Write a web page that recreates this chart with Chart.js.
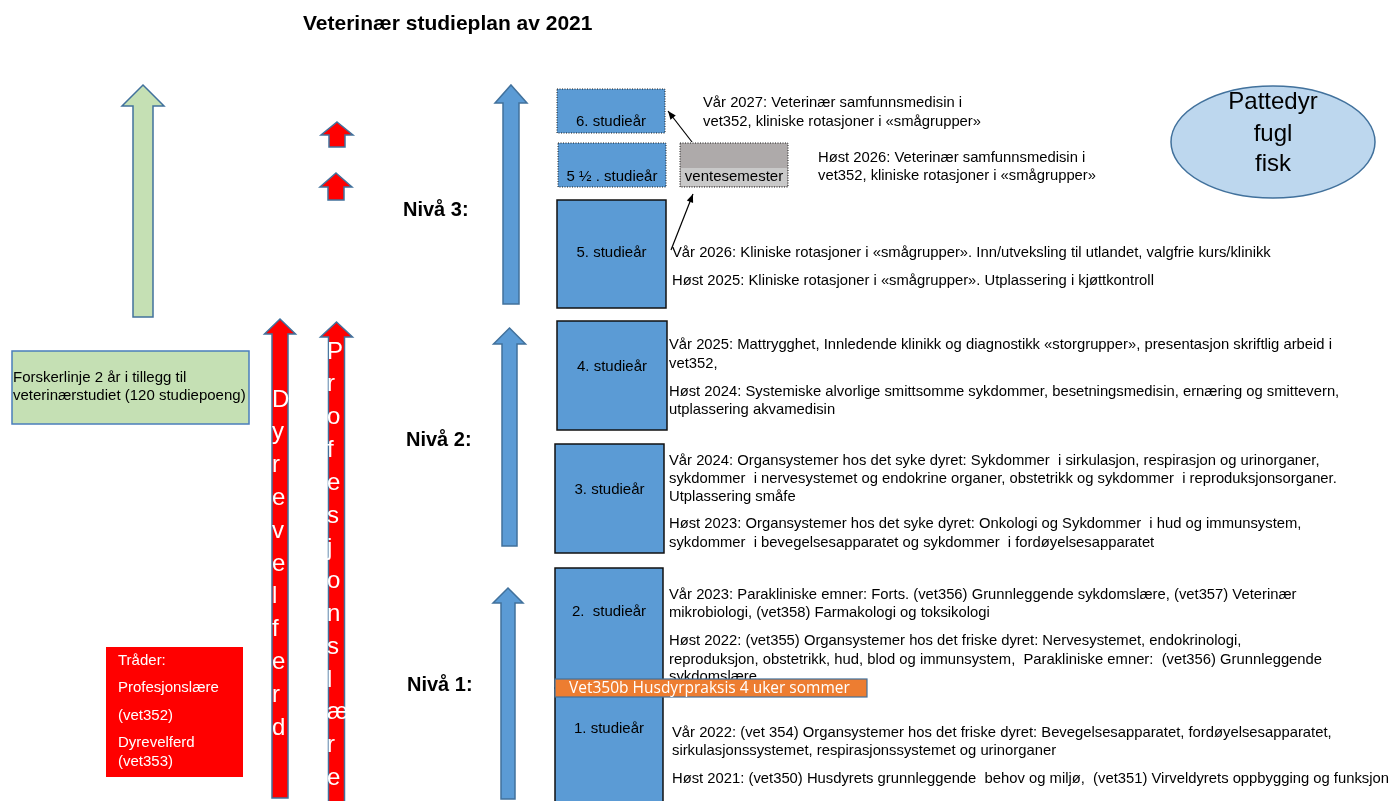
<!DOCTYPE html>
<html lang="no">
<head>
<meta charset="utf-8">
<title>Veterinær studieplan av 2021</title>
<script src="https://cdn.jsdelivr.net/npm/chart.js@4.4.1/dist/chart.umd.min.js"></script>
<style>
  html, body { margin: 0; padding: 0; background: #ffffff; }
  #wrap { position: relative; width: 1396px; height: 801px; }
</style>
</head>
<body>
<div id="wrap"><canvas id="plan"></canvas></div>
<script>
// innhold
const title = 'Veterinær studieplan av 2021';
const studyYears = ['6. studieår', '5 ½ . studieår', '5. studieår', '4. studieår', '3. studieår', '2.  studieår', '1. studieår'];
const levels = ['Nivå 3:', 'Nivå 2:', 'Nivå 1:'];
const waitingLabel = 'ventesemester';
const practiceLabel = 'Vet350b Husdyrpraksis 4 uker sommer';
const animalGroups = ['Pattedyr', 'fugl', 'fisk'];
const threads = ['Dyrevelferd', 'Profesjonslære'];
const threadBox = ['Tråder:', 'Profesjonslære', '(vet352)', 'Dyrevelferd', '(vet353)'];
const researchLine = ['Forskerlinje 2 år i tillegg til', 'veterinærstudiet (120 studiepoeng)'];

const notesYear6 = ['Vår 2027: Veterinær samfunnsmedisin i', 'vet352, kliniske rotasjoner i «smågrupper»'];
const notesYear55 = ['Høst 2026: Veterinær samfunnsmedisin i', 'vet352, kliniske rotasjoner i «smågrupper»'];
const notesYear5 = [
  'Vår 2026: Kliniske rotasjoner i «smågrupper». Inn/utveksling til utlandet, valgfrie kurs/klinikk',
  'Høst 2025: Kliniske rotasjoner i «smågrupper». Utplassering i kjøttkontroll'
];
const notesYear4 = [
  'Vår 2025: Mattrygghet, Innledende klinikk og diagnostikk «storgrupper», presentasjon skriftlig arbeid i',
  'vet352,',
  'Høst 2024: Systemiske alvorlige smittsomme sykdommer, besetningsmedisin, ernæring og smittevern,',
  'utplassering akvamedisin'
];
const notesYear3 = [
  'Vår 2024: Organsystemer hos det syke dyret: Sykdommer  i sirkulasjon, respirasjon og urinorganer,',
  'sykdommer  i nervesystemet og endokrine organer, obstetrikk og sykdommer  i reproduksjonsorganer.',
  'Utplassering småfe',
  'Høst 2023: Organsystemer hos det syke dyret: Onkologi og Sykdommer  i hud og immunsystem,',
  'sykdommer  i bevegelsesapparatet og sykdommer  i fordøyelsesapparatet'
];
const notesYear2 = [
  'Vår 2023: Parakliniske emner: Forts. (vet356) Grunnleggende sykdomslære, (vet357) Veterinær',
  'mikrobiologi, (vet358) Farmakologi og toksikologi',
  'Høst 2022: (vet355) Organsystemer hos det friske dyret: Nervesystemet, endokrinologi,',
  'reproduksjon, obstetrikk, hud, blod og immunsystem,  Parakliniske emner:  (vet356) Grunnleggende',
  'sykdomslære'
];
const notesYear1 = [
  'Vår 2022: (vet 354) Organsystemer hos det friske dyret: Bevegelsesapparatet, fordøyelsesapparatet,',
  'sirkulasjonssystemet, respirasjonssystemet og urinorganer',
  'Høst 2021: (vet350) Husdyrets grunnleggende  behov og miljø,  (vet351) Virveldyrets oppbygging og funksjon'
];

// plassering (i diagramenheter, x 0-1396, y 0-801 ovenfra)
const yearBoxes = [
  { x0: 557, x1: 665, y0: 89, y1: 133, ly: 122, dotted: true },
  { x0: 558, x1: 666, y0: 143, y1: 187, ly: 177, dotted: true },
  { x0: 557, x1: 666, y0: 200, y1: 308, ly: 253 },
  { x0: 557, x1: 667, y0: 321, y1: 430, ly: 367 },
  { x0: 555, x1: 664, y0: 444, y1: 553, ly: 490 },
  { x0: 555, x1: 663, y0: 568, y1: 688, ly: 612 },
  { x0: 555, x1: 663, y0: 688, y1: 812, ly: 729 }
];
const levelPos = [{ x: 403, y: 210 }, { x: 406, y: 440 }, { x: 407, y: 685 }];
const notePos = [
  { lines: notesYear6, x: 703, y: [103, 122] },
  { lines: notesYear55, x: 818, y: [158, 176] },
  { lines: notesYear5, x: 672, y: [253, 281] },
  { lines: notesYear4, x: 669, y: [345, 364, 392, 410] },
  { lines: notesYear3, x: 669, y: [461, 479, 497, 524, 543] },
  { lines: notesYear2, x: 669, y: [595, 613, 641, 660, 677] },
  { lines: notesYear1, x: 672, y: [733, 751, 779] }
];
// pil: midt x, spiss, hodebase, bunn, halv skaft, halvt hode
const blueArrows = [
  { cx: 511, tip: 85, base: 103, bottom: 304, sw: 8, hw: 16 },
  { cx: 509.5, tip: 328, base: 344, bottom: 546, sw: 7.5, hw: 16 },
  { cx: 508, tip: 588, base: 603, bottom: 799, sw: 7, hw: 15 }
];
const greenArrow = { cx: 143, tip: 85, base: 106, bottom: 317, sw: 10, hw: 21 };
const smallRedArrows = [
  { cx: 337, tip: 122, base: 135, bottom: 147, sw: 8, hw: 16 },
  { cx: 336, tip: 173, base: 187, bottom: 200, sw: 8, hw: 16 }
];
const threadArrows = [
  { cx: 280, tip: 319, base: 334, bottom: 798, sw: 8, hw: 15.5, lx: 272, ly0: 400 },
  { cx: 336.5, tip: 322, base: 337, bottom: 802, sw: 8, hw: 16, lx: 327, ly0: 352 }
];
const letterStep = 32.8;

const BLUE = '#5b9bd5';
const EDGE = '#41719c';
const ARIAL = '"Liberation Sans", Arial, sans-serif';

const diagramPlugin = {
  id: 'diagram',
  afterDraw(chart) {
    const { ctx, scales } = chart;
    const X = (v) => scales.x.getPixelForValue(v);
    const Y = (v) => scales.y.getPixelForValue(v);

    function text(str, x, y, font, color, align = 'left') {
      ctx.save();
      ctx.font = font;
      ctx.fillStyle = color;
      ctx.textAlign = align;
      ctx.textBaseline = 'middle';
      ctx.fillText(str, X(x), Y(y));
      ctx.restore();
    }

    function upArrow(a, fill, stroke) {
      ctx.save();
      ctx.beginPath();
      ctx.moveTo(X(a.cx), Y(a.tip));
      ctx.lineTo(X(a.cx + a.hw), Y(a.base));
      ctx.lineTo(X(a.cx + a.sw), Y(a.base));
      ctx.lineTo(X(a.cx + a.sw), Y(a.bottom));
      ctx.lineTo(X(a.cx - a.sw), Y(a.bottom));
      ctx.lineTo(X(a.cx - a.sw), Y(a.base));
      ctx.lineTo(X(a.cx - a.hw), Y(a.base));
      ctx.closePath();
      ctx.fillStyle = fill;
      ctx.fill();
      ctx.lineWidth = 1.5;
      ctx.strokeStyle = stroke;
      ctx.stroke();
      ctx.restore();
    }

    function rect(x0, y0, x1, y1, fill, stroke, lw = 1, dash = null) {
      ctx.save();
      ctx.fillStyle = fill;
      ctx.fillRect(X(x0), Y(y0), X(x1) - X(x0), Y(y1) - Y(y0));
      if (stroke) {
        ctx.strokeStyle = stroke;
        ctx.lineWidth = lw;
        if (dash) ctx.setLineDash(dash);
        ctx.strokeRect(X(x0), Y(y0), X(x1) - X(x0), Y(y1) - Y(y0));
      }
      ctx.restore();
    }

    function pointer(x0, y0, x1, y1) {
      const ang = Math.atan2(Y(y1) - Y(y0), X(x1) - X(x0));
      ctx.save();
      ctx.strokeStyle = '#000000';
      ctx.fillStyle = '#000000';
      ctx.lineWidth = 1.2;
      ctx.beginPath();
      ctx.moveTo(X(x0), Y(y0));
      ctx.lineTo(X(x1), Y(y1));
      ctx.stroke();
      ctx.beginPath();
      ctx.moveTo(X(x1), Y(y1));
      ctx.lineTo(X(x1) - 9 * Math.cos(ang - 0.38), Y(y1) - 9 * Math.sin(ang - 0.38));
      ctx.lineTo(X(x1) - 9 * Math.cos(ang + 0.38), Y(y1) - 9 * Math.sin(ang + 0.38));
      ctx.closePath();
      ctx.fill();
      ctx.restore();
    }

    // tittel
    text(title, 303, 24, 'bold 21px ' + ARIAL, '#000000');

    // piler
    upArrow(greenArrow, '#c5e0b4', EDGE);
    smallRedArrows.forEach((a) => upArrow(a, '#ff0000', EDGE));
    blueArrows.forEach((a) => upArrow(a, BLUE, EDGE));
    threadArrows.forEach((a, i) => {
      upArrow(a, '#ff0000', EDGE);
      [...threads[i]].forEach((ch, k) => {
        text(ch, a.lx, a.ly0 + k * letterStep, '24px ' + ARIAL, '#ffffff');
      });
    });

    // nivå
    levels.forEach((label, i) => {
      text(label, levelPos[i].x, levelPos[i].y, 'bold 20px ' + ARIAL, '#000000');
    });

    // forskerlinje
    rect(12, 351, 249, 424, '#c5e0b4', '#4a7ebb', 1.5);
    researchLine.forEach((line, i) => text(line, 13, 378 + i * 18, '15px ' + ARIAL, '#000000'));

    // tråder
    rect(106, 647, 243, 777, '#ff0000');
    const threadY = [661, 688, 716, 743, 762];
    threadBox.forEach((line, i) => text(line, 118, threadY[i], '15px ' + ARIAL, '#ffffff'));

    // studieår
    yearBoxes.forEach((b, i) => {
      rect(b.x0, b.y0, b.x1, b.y1, BLUE, b.dotted ? '#1a1a1a' : '#111111', b.dotted ? 1 : 1.5, b.dotted ? [1, 1.5] : null);
      text(studyYears[i], (b.x0 + b.x1) / 2, b.ly, '15px ' + ARIAL, '#000000', 'center');
    });

    // ventesemester
    rect(680, 143, 788, 187, '#aeaaaa', '#1a1a1a', 1, [1, 1.5]);
    rect(681, 168, 787, 186, '#c9c9c9');
    text(waitingLabel, 734, 177, '15px ' + ARIAL, '#000000', 'center');

    pointer(671, 250, 693, 194);
    pointer(692, 142, 668, 111);

    // semesternotater
    notePos.forEach((n) => {
      n.lines.forEach((line, i) => text(line, n.x, n.y[i], '14.8px ' + ARIAL, '#000000'));
    });

    // praksis
    rect(555, 679, 867, 697, '#ed7d31', EDGE, 1.2);
    text(practiceLabel, 569, 688.5, '15.5px "Open Sans", ' + ARIAL, '#ffffff');

    // dyregrupper
    ctx.save();
    ctx.beginPath();
    ctx.ellipse(X(1273), Y(142), X(1375) - X(1273), Y(198) - Y(142), 0, 0, Math.PI * 2);
    ctx.fillStyle = '#bdd7ee';
    ctx.fill();
    ctx.lineWidth = 1.5;
    ctx.strokeStyle = EDGE;
    ctx.stroke();
    ctx.restore();
    const animalY = [102, 134, 164];
    animalGroups.forEach((g, i) => text(g, 1273, animalY[i], '24px ' + ARIAL, '#000000', 'center'));
  }
};

new Chart(document.getElementById('plan'), {
  type: 'scatter',
  data: { datasets: [{ data: [], pointRadius: 0 }] },
  options: {
    responsive: true,
    maintainAspectRatio: false,
    animation: false,
    devicePixelRatio: 1,
    layout: { padding: 0 },
    plugins: { legend: { display: false }, tooltip: { enabled: false } },
    scales: {
      x: { type: 'linear', min: 0, max: 1396, display: false },
      y: { type: 'linear', min: 0, max: 801, reverse: true, display: false }
    }
  },
  plugins: [diagramPlugin]
});
</script>
</body>
</html>
